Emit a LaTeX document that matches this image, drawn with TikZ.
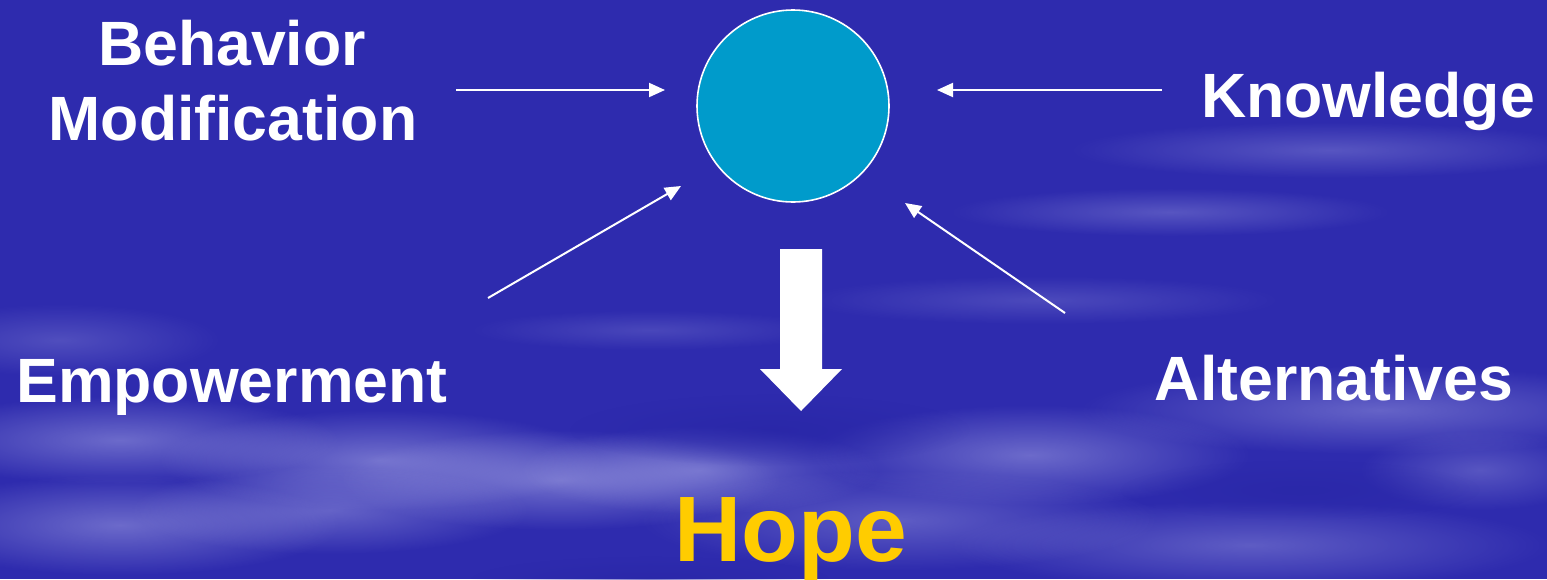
\documentclass[tikz,border=0pt]{standalone}
\usepackage{fontspec}
\setmainfont{Liberation Sans}
\usetikzlibrary{arrows.meta,fadings}
\definecolor{bg}{HTML}{2E2BAE}
\definecolor{cloud}{HTML}{B8B8EE}
\definecolor{deep}{HTML}{2826A6}
\definecolor{ball}{HTML}{009BCB}
\definecolor{hopecol}{HTML}{FFCC00}
\tikzfading[name=soft, inner color=transparent!0, outer color=transparent!100]
\tikzset{
  lbl/.style={text=white, font=\bfseries\fontsize{31.3}{37}\selectfont, anchor=base, inner sep=0pt},
  thin arrow/.style={draw=white, line width=1pt, -{Triangle[length=8pt,width=7pt]}},
  cl/.style={fill=cloud, path fading=soft},
}
\begin{document}
\begin{tikzpicture}[x=0.5pt,y=-0.5pt]
\fill[bg] (0,0) rectangle (1547,579);
\useasboundingbox (0,0) rectangle (1547,579);
% clouds
\begin{scope}
\fill[cl, fill opacity=0.30] (1330,150) ellipse [x radius=130pt, y radius=14pt];
\fill[cl, fill opacity=0.30] (1170,212) ellipse [x radius=110pt, y radius=12pt];
\fill[cl, fill opacity=0.22] (1040,300) ellipse [x radius=120pt, y radius=12pt];
\fill[cl, fill opacity=0.20] (650,330) ellipse [x radius=90pt, y radius=10pt];
\fill[cl, fill opacity=0.25] (60,340) ellipse [x radius=80pt, y radius=18pt];
\fill[cl, fill opacity=0.40] (1380,410) ellipse [x radius=150pt, y radius=22pt];
\fill[cl, fill opacity=0.45] (1030,455) ellipse [x radius=110pt, y radius=25pt];
\fill[cl, fill opacity=0.50] (380,460) ellipse [x radius=110pt, y radius=25pt];
\fill[cl, fill opacity=0.50] (560,480) ellipse [x radius=110pt, y radius=25pt];
\fill[cl, fill opacity=0.45] (700,470) ellipse [x radius=90pt, y radius=22pt];
\fill[cl, fill opacity=0.45] (120,440) ellipse [x radius=110pt, y radius=22pt];
\fill[cl, fill opacity=0.45] (120,525) ellipse [x radius=110pt, y radius=25pt];
\fill[cl, fill opacity=0.40] (330,510) ellipse [x radius=100pt, y radius=22pt];
\fill[cl, fill opacity=0.35] (1250,545) ellipse [x radius=150pt, y radius=22pt];
\fill[cl, fill opacity=0.35] (900,520) ellipse [x radius=130pt, y radius=25pt];
\fill[cl, fill opacity=0.30] (1480,470) ellipse [x radius=60pt, y radius=20pt];
\fill[deep, fill opacity=0.7, path fading=soft] (770,430) ellipse [x radius=100pt, y radius=18pt];
\fill[deep, fill opacity=0.6, path fading=soft] (1300,490) ellipse [x radius=90pt, y radius=15pt];
\fill[deep, fill opacity=0.6, path fading=soft] (650,580) ellipse [x radius=90pt, y radius=12pt];
\end{scope}
% centre circle
\node[circle, fill=ball, draw=white, line width=0.8pt, minimum size=96pt, inner sep=0pt] (c) at (793,106) {};
% labels
\node[lbl] (beh) at (232,65) {Behavior};
\node[lbl] (mod) at (233,140) {Modification};
\node[lbl] (kno) at (1368,117) {Knowledge};
\node[lbl] (emp) at (232,402) {Empowerment};
\node[lbl] (alt) at (1334,400) {Alternatives};
\node[text=hopecol, font=\bfseries\fontsize{46.5}{50}\selectfont, anchor=base, inner sep=0pt] (hope) at (791,561) {Hope};
% connector end points
\coordinate (bS) at (456,90);  \coordinate (bE) at (665,90);
\coordinate (kS) at (1162,90); \coordinate (kE) at (937,90);
\coordinate (eS) at (488,298); \coordinate (eE) at (681,186);
\coordinate (aS) at (1065,313); \coordinate (aE) at (905,203);
\draw[thin arrow] (bS) -- (bE);
\draw[thin arrow] (kS) -- (kE);
\draw[thin arrow] (eS) -- (eE);
\draw[thin arrow] (aS) -- (aE);
% block arrow
\fill[white] (780,249) -- (822,249) -- (822,369) -- (842,369) -- (801,411) -- (760,369) -- (780,369) -- cycle;
\end{tikzpicture}
\end{document}
